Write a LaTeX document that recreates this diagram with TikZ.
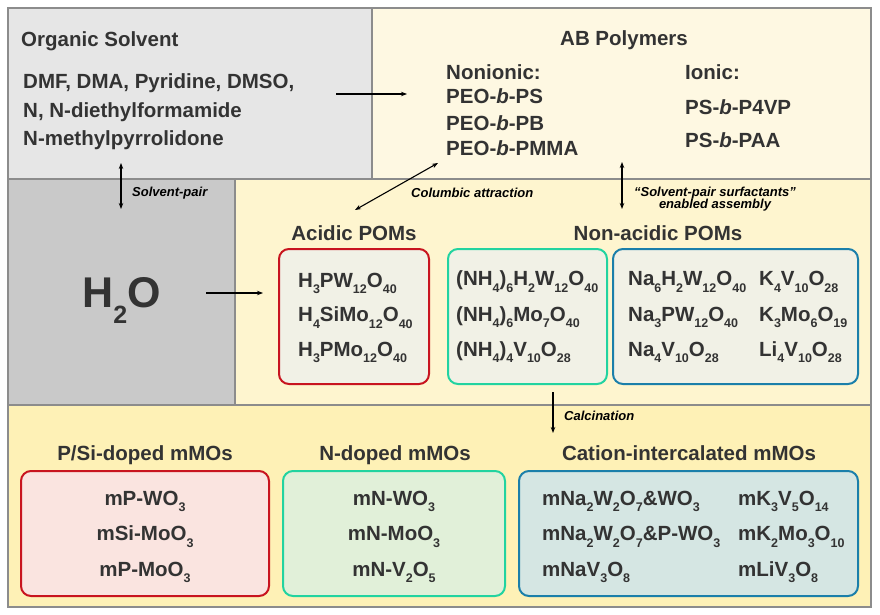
\documentclass[tikz,border=0pt]{standalone}
\usepackage{fontspec}
\setmainfont{Liberation Sans}
\usetikzlibrary{arrows.meta}

\definecolor{ink}{HTML}{333333}
\definecolor{frame}{HTML}{8C8C8C}
\definecolor{solvfill}{HTML}{E6E6E6}
\definecolor{polyfill}{HTML}{FEF8E2}
\definecolor{waterfill}{HTML}{C9C9C9}
\definecolor{pomfill}{HTML}{FEF5CF}
\definecolor{mmofill}{HTML}{FEF1B6}
\definecolor{boxfill}{HTML}{F1F1E6}
\definecolor{redline}{HTML}{C8141F}
\definecolor{greenline}{HTML}{22D3A0}
\definecolor{blueline}{HTML}{1B7FAA}
\definecolor{redfill}{HTML}{FAE4E0}
\definecolor{greenfill}{HTML}{E1F0D9}
\definecolor{bluefill}{HTML}{D5E6E3}

\newcommand{\lo}[1]{\raisebox{-6.5pt}{\fontsize{12.5}{12.5}\selectfont #1}}

\begin{document}
\begin{tikzpicture}[x=1pt,y=-1pt,>={Stealth[length=6pt,width=4.5pt]},
panel/.style ={draw=frame, line width=1.5pt},
txt/.style={inner sep=0pt, anchor=base west, text=ink, font=\fontsize{20.5}{24}\selectfont\bfseries},
head/.style={inner sep=0pt, anchor=base, text=ink, font=\fontsize{20.5}{24}\selectfont\bfseries},
lbl/.style={inner sep=0pt, anchor=base west, font=\fontsize{13}{13}\selectfont\bfseries\itshape},
arr/.style={line width=1.1pt},
redbox/.style={draw=redline, line width=2pt, rounded corners=10pt},
greenbox/.style={draw=greenline, line width=2pt, rounded corners=10pt},
bluebox/.style={draw=blueline, line width=2pt, rounded corners=10pt}]

\useasboundingbox (0,0) rectangle (880,615);

% panels
\fill[solvfill] (8,8) rectangle (372,179);
\fill[polyfill] (372,8) rectangle (871,179);
\fill[waterfill] (8,179) rectangle (235,405);
\fill[pomfill] (235,179) rectangle (871,405);
\fill[mmofill] (8,405) rectangle (871,607);
\draw[panel] (8,8) rectangle (871,607);
\draw[panel] (372,8)--(372,179);
\draw[panel] (8,179)--(871,179);
\draw[panel] (235,179)--(235,405);
\draw[panel] (8,405)--(871,405);

% boxes
\draw[redbox, fill=boxfill] (279,249) rectangle (429,384);
\draw[greenbox, fill=boxfill] (448,249) rectangle (607,384);
\draw[bluebox, fill=boxfill] (613,249) rectangle (858,384);
\draw[redbox, fill=redfill] (21,471) rectangle (269,596);
\draw[greenbox, fill=greenfill] (283,471) rectangle (505,596);
\draw[bluebox, fill=bluefill] (519,471) rectangle (858,596);

% organic solvent
\draw (21,47) node[txt] (OS) {Organic Solvent};
\draw (23,89) node[txt] (OS1) {DMF, DMA, Pyridine, DMSO,};
\draw (23,117.5) node[txt] (OS2) {N, N-diethylformamide};
\draw (23,146) node[txt] (OS3) {N-methylpyrrolidone};

% AB polymers
\draw (624,46) node[head] (AB) {AB Polymers};
\draw (446,80) node[txt] (NI) {Nonionic:};
\draw (446,104) node[txt] (NI1) {PEO-\textit{b}-PS};
\draw (446,130) node[txt] (NI2) {PEO-\textit{b}-PB};
\draw (446,155) node[txt] (NI3) {PEO-\textit{b}-PMMA};
\draw (685,80) node[txt] (IO) {Ionic:};
\draw (685,114) node[txt] (IO1) {PS-\textit{b}-P4VP};
\draw (685,147) node[txt] (IO2) {PS-\textit{b}-PAA};

% water
\draw (82,307) node[txt, font=\fontsize{43}{43}\selectfont\bfseries] (W) {H\raisebox{-16pt}{\fontsize{25}{25}\selectfont 2}O};

% POMs
\draw (354,240) node[head] (AP) {Acidic POMs};
\draw (298,287) node[txt] (AP1) {H\lo{3}PW\lo{12}O\lo{40}};
\draw (298,321.5) node[txt] (AP2) {H\lo{4}SiMo\lo{12}O\lo{40}};
\draw (298,356) node[txt] (AP3) {H\lo{3}PMo\lo{12}O\lo{40}};
\draw (658,240) node[head] (NP) {Non-acidic POMs};
\draw (456,285.5) node[txt] (NH1) {(NH\lo{4})\lo{6}H\lo{2}W\lo{12}O\lo{40}};
\draw (456,321) node[txt] (NH2) {(NH\lo{4})\lo{6}Mo\lo{7}O\lo{40}};
\draw (456,356) node[txt] (NH3) {(NH\lo{4})\lo{4}V\lo{10}O\lo{28}};
\draw (628,285.5) node[txt] (NA1) {Na\lo{6}H\lo{2}W\lo{12}O\lo{40}};
\draw (628,321) node[txt] (NA2) {Na\lo{3}PW\lo{12}O\lo{40}};
\draw (628,356) node[txt] (NA3) {Na\lo{4}V\lo{10}O\lo{28}};
\draw (759,285.5) node[txt] (KV1) {K\lo{4}V\lo{10}O\lo{28}};
\draw (759,321) node[txt] (KV2) {K\lo{3}Mo\lo{6}O\lo{19}};
\draw (759,356) node[txt] (KV3) {Li\lo{4}V\lo{10}O\lo{28}};

% mMOs
\draw (145,460) node[head] (PS) {P/Si-doped mMOs};
\draw (145,505) node[head] (PS1) {mP-WO\lo{3}};
\draw (145,540.5) node[head] (PS2) {mSi-MoO\lo{3}};
\draw (145,576) node[head] (PS3) {mP-MoO\lo{3}};
\draw (395,460) node[head] (ND) {N-doped mMOs};
\draw (394,505) node[head] (ND1) {mN-WO\lo{3}};
\draw (394,540.5) node[head] (ND2) {mN-MoO\lo{3}};
\draw (394,576) node[head] (ND3) {mN-V\lo{2}O\lo{5}};
\draw (689,460) node[head] (CI) {Cation-intercalated mMOs};
\draw (542,505) node[txt] (CI1) {mNa\lo{2}W\lo{2}O\lo{7}\&WO\lo{3}};
\draw (542,540.5) node[txt] (CI2) {mNa\lo{2}W\lo{2}O\lo{7}\&P-WO\lo{3}};
\draw (542,576) node[txt] (CI3) {mNaV\lo{3}O\lo{8}};
\draw (738,505) node[txt] (KC1) {mK\lo{3}V\lo{5}O\lo{14}};
\draw (738,540.5) node[txt] (KC2) {mK\lo{2}Mo\lo{3}O\lo{10}};
\draw (738,576) node[txt] (KC3) {mLiV\lo{3}O\lo{8}};

% labels
\draw (132,196.5) node[lbl] (Lsp) {Solvent-pair};
\draw (411,197) node[lbl] (Lca) {Columbic attraction};
\draw (715,196.5) node[lbl, anchor=base] (Lsu) {“Solvent-pair surfactants”};
\draw (715,208.5) node[lbl, anchor=base] (Lea) {enabled assembly};
\draw (564,420) node[lbl] (Lcal) {Calcination};

% arrow ends
\coordinate (solvR) at (336,94);
\coordinate (polyL) at (407,94);
\coordinate (solvB) at (121,163);
\coordinate (waterT) at (121,209);
\coordinate (polyB) at (438,163);
\coordinate (acidT) at (355,210);
\coordinate (polyC) at (622,162);
\coordinate (nonT) at (622,209);
\coordinate (waterR) at (206,293);
\coordinate (acidL) at (263,293);
\coordinate (nonB) at (553,392);
\coordinate (cationT) at (553,433);

\draw[arr,->] (solvR)--(polyL);
\draw[arr,<->] (solvB)--(waterT);
\draw[arr,<->] (polyB)--(acidT);
\draw[arr,<->] (polyC)--(nonT);
\draw[arr,->] (waterR)--(acidL);
\draw[arr,->] (nonB)--(cationT);

\end{tikzpicture}
\end{document}
